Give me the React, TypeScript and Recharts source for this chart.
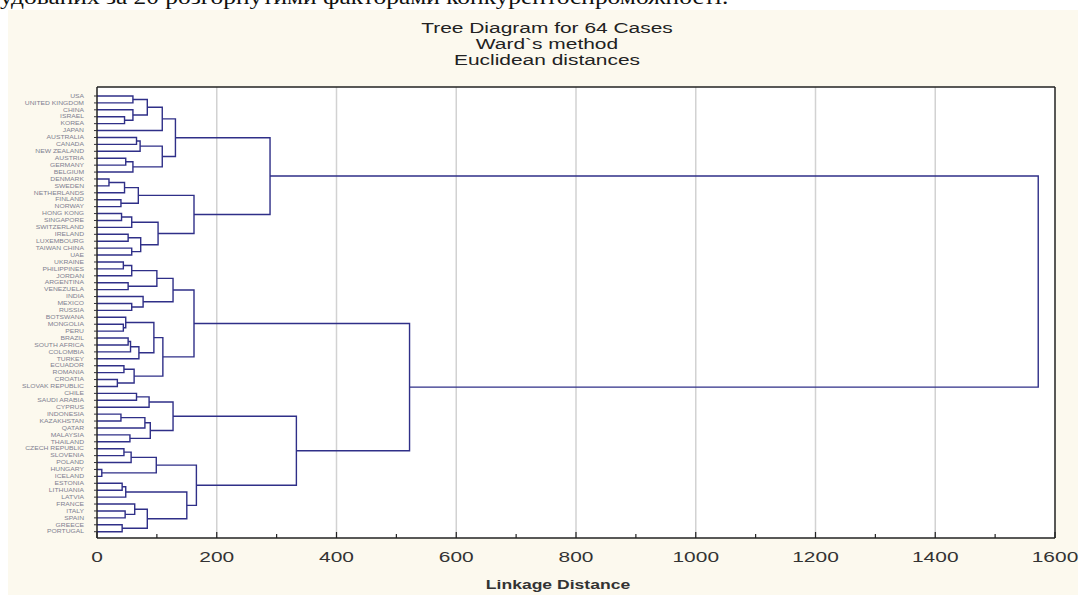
import React from "react";
import {
	ComposedChart,
	Line,
	XAxis,
	YAxis,
	CartesianGrid,
	ReferenceLine,
} from "recharts";

const leafNames = [
	"USA", "UNITED KINGDOM", "CHINA", "ISRAEL", "KOREA", "JAPAN", "AUSTRALIA", "CANADA",
	"NEW ZEALAND", "AUSTRIA", "GERMANY", "BELGIUM", "DENMARK", "SWEDEN", "NETHERLANDS", "FINLAND",
	"NORWAY", "HONG KONG", "SINGAPORE", "SWITZERLAND", "IRELAND", "LUXEMBOURG", "TAIWAN CHINA", "UAE",
	"UKRAINE", "PHILIPPINES", "JORDAN", "ARGENTINA", "VENEZUELA", "INDIA", "MEXICO", "RUSSIA",
	"BOTSWANA", "MONGOLIA", "PERU", "BRAZIL", "SOUTH AFRICA", "COLOMBIA", "TURKEY", "ECUADOR",
	"ROMANIA", "CROATIA", "SLOVAK REPUBLIC", "CHILE", "SAUDI ARABIA", "CYPRUS", "INDONESIA", "KAZAKHSTAN",
	"QATAR", "MALAYSIA", "THAILAND", "CZECH REPUBLIC", "SLOVENIA", "POLAND", "HUNGARY", "ICELAND",
	"ESTONIA", "LITHUANIA", "LATVIA", "FRANCE", "ITALY", "SPAIN", "GREECE", "PORTUGAL",
];

// [child a, child b, linkage distance]; leaves are 0..63, merge k creates node 64 + k
const merges: [number, number, number][] = [
	[0, 1, 60], [3, 4, 46], [2, 65, 60], [64, 66, 84], [67, 5, 109],
	[6, 7, 66], [69, 8, 72], [9, 10, 48], [71, 11, 60], [70, 72, 109],
	[68, 73, 131],
	[12, 13, 20], [75, 14, 46], [15, 16, 40], [76, 77, 69], [17, 18, 41],
	[79, 19, 58], [20, 21, 52], [22, 23, 58], [81, 82, 73], [80, 83, 102],
	[78, 84, 162], [74, 85, 289],
	[24, 25, 44], [87, 26, 58], [27, 28, 52], [88, 89, 100], [30, 31, 58],
	[29, 91, 77], [90, 92, 127], [33, 34, 44], [32, 94, 48], [35, 36, 52],
	[96, 37, 56], [97, 38, 70], [95, 98, 95], [39, 40, 45], [41, 42, 34],
	[100, 101, 62], [99, 102, 110], [93, 103, 162],
	[43, 44, 66], [105, 45, 87], [46, 47, 40], [107, 48, 80], [49, 50, 55],
	[108, 109, 89], [106, 110, 127], [51, 52, 45], [112, 53, 57], [54, 55, 8],
	[113, 114, 99], [56, 57, 42], [116, 58, 48], [60, 61, 47], [59, 118, 63],
	[62, 63, 42], [119, 120, 84], [117, 121, 150], [115, 122, 166], [111, 123, 333],
	[104, 124, 522], [86, 125, 1572],
];

const majorTicks = [0, 200, 400, 600, 800, 1000, 1200, 1400, 1600];
const minorTicks = [100, 300, 500, 700, 900, 1100, 1300, 1500];
const gridValues = [200, 400, 600, 800, 1000, 1200, 1400];

const titleLines = ["Tree Diagram for 64 Cases", "Ward`s method", "Euclidean distances"];
const pageHeading = "удованих за 20 розгорнутими факторами конкурентоспроможності.";

const allTicks = [...majorTicks, ...minorTicks].sort((a, b) => a - b);
const leafTicks = leafNames.map((_, i) => i);

// walk the merges, each one becomes a bracket from its two children
const nodeY: number[] = leafNames.map((_, i) => i);
const nodeD: number[] = leafNames.map(() => 0);
const links = merges.map(([a, b, d]) => {
	const pts = [
		{ x: nodeD[a], y: nodeY[a] },
		{ x: d, y: nodeY[a] },
		{ x: d, y: nodeY[b] },
		{ x: nodeD[b], y: nodeY[b] },
	];
	nodeY.push((nodeY[a] + nodeY[b]) / 2);
	nodeD.push(d);
	return pts;
});

const STRETCH = 1.35;
const LINE = "#2f2f88";

const BottomTick = (props: any) => {
	const { x, y, payload } = props;
	const major = payload.value % 200 === 0;
	return (
		<g>
			<line x1={x} x2={x} y1={y} y2={y - (major ? 6 : 4)} stroke="#222" strokeWidth={1.2} />
			{major && (
				<text
					transform={`translate(${x},${y + 19}) scale(${STRETCH},1)`}
					textAnchor="middle"
					dominantBaseline="central"
					fontSize={15.5}
					fill="#333"
					fontFamily="'Liberation Sans', Arial, sans-serif"
				>
					{payload.value}
				</text>
			)}
		</g>
	);
};

const TopTick = (props: any) => {
	const { x, y, payload } = props;
	const major = payload.value % 200 === 0;
	return <line x1={x} x2={x} y1={y} y2={y + (major ? 6 : 4)} stroke="#222" strokeWidth={1.2} />;
};

const LeafTick = (props: any) => {
	const { x, y, payload } = props;
	return (
		<text
			transform={`translate(${x},${y}) scale(1.3,1)`}
			textAnchor="end"
			dominantBaseline="central"
			fontSize={5.2}
			fill="#7f7f90"
			fontFamily="'Liberation Sans', Arial, sans-serif"
		>
			{leafNames[payload.value]}
		</text>
	);
};

export default function App() {
	return (
		<div style={{ position: "absolute", left: 0, top: 0, width: 1086, height: 595, background: "#fff", overflow: "hidden" }}>
			<div
				style={{
					position: "absolute",
					left: 0,
					top: -12.6,
					whiteSpace: "nowrap",
					fontFamily: "'Liberation Serif', 'Times New Roman', serif",
					fontSize: 21,
					lineHeight: "21px",
					color: "#111",
					transform: "scaleX(1.21)",
					transformOrigin: "left center",
				}}
			>
				{pageHeading}
			</div>
			<div style={{ position: "absolute", left: 8, top: 10, width: 1070, height: 585, background: "#fcf9ee" }} />
			{titleLines.map((t, i) => (
				<div
					key={t}
					style={{
						position: "absolute",
						left: 547 - 300,
						width: 600,
						top: 28 + i * 16 - 9,
						height: 18,
						lineHeight: "18px",
						textAlign: "center",
						fontFamily: "'Liberation Sans', Arial, sans-serif",
						fontSize: 15.5,
						color: "#222",
						transform: `scaleX(${STRETCH})`,
					}}
				>
					{t}
				</div>
			))}
			<div
				style={{
					position: "absolute",
					left: 558 - 200,
					width: 400,
					top: 576,
					height: 18,
					lineHeight: "18px",
					textAlign: "center",
					fontFamily: "'Liberation Sans', Arial, sans-serif",
					fontSize: 13,
					fontWeight: "bold",
					color: "#333",
					transform: `scaleX(${STRETCH})`,
				}}
			>
				Linkage Distance
			</div>
			<div style={{ position: "absolute", left: 0, top: 0 }}>
				<ComposedChart width={1086} height={595} margin={{ top: 86, right: 31, bottom: 0, left: 0 }}>
					<CartesianGrid horizontal={false} vertical={false} fill="#ffffff" fillOpacity={1} />
					{gridValues.map((v) => (
						<ReferenceLine key={v} x={v} stroke="#d2d2d2" strokeWidth={1.5} />
					))}
					<XAxis
						type="number"
						dataKey="x"
						domain={[0, 1600]}
						allowDataOverflow
						ticks={allTicks}
						interval={0}
						height={57}
						tickSize={0}
						tickMargin={0}
						tickLine={false}
						tick={(p: any) => <BottomTick {...p} />}
						axisLine={{ stroke: "#222", strokeWidth: 1.5 }}
					/>
					<XAxis
						xAxisId="top"
						orientation="top"
						type="number"
						domain={[0, 1600]}
						allowDataOverflow
						ticks={allTicks}
						interval={0}
						height={1}
						tickSize={0}
						tickMargin={0}
						tickLine={false}
						tick={(p: any) => <TopTick {...p} />}
						axisLine={{ stroke: "#222", strokeWidth: 1.5 }}
					/>
					<YAxis
						type="number"
						dataKey="y"
						domain={[-1.3, 63.91]}
						allowDataOverflow
						reversed
						ticks={leafTicks}
						interval={0}
						width={97}
						tickSize={3}
						tickMargin={10}
						tickLine={{ stroke: "#333", strokeWidth: 1 }}
						tick={(p: any) => <LeafTick {...p} />}
						axisLine={{ stroke: "#222", strokeWidth: 1.5 }}
					/>
					<ReferenceLine x={1600} stroke="#222" strokeWidth={1.5} />
					{links.map((pts, i) => (
						<Line
							key={i}
							data={pts}
							dataKey="y"
							type="linear"
							stroke={LINE}
							strokeWidth={1.4}
							dot={false}
							activeDot={false}
							isAnimationActive={false}
						/>
					))}
				</ComposedChart>
			</div>
		</div>
	);
}
